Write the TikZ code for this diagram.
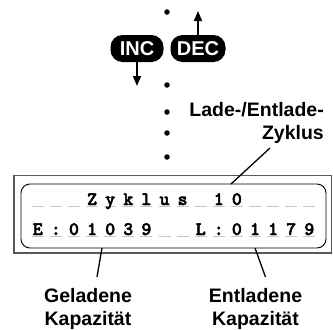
\documentclass[tikz,border=0pt]{standalone}
\usepackage{fontspec}
\usetikzlibrary{arrows.meta}
\newfontfamily\labfont{Liberation Sans}
\newfontfamily\lcdfont[FakeBold=2.5]{lmmonolt10-bold.otf}
\begin{document}
\begin{tikzpicture}[x=1pt,y=-1pt,
  dotn/.style={circle,fill=black,minimum size=5.5pt,inner sep=0pt},
  btn/.style={fill=black,text=white,rounded corners=12pt,minimum height=27pt,inner sep=0pt,
    font=\labfont\bfseries\fontsize{20}{20}\selectfont},
  arr/.style={line width=1.6pt,-{Triangle[length=10pt,width=8pt]}},
  lab/.style={inner sep=0pt,font=\labfont\bfseries\fontsize{19.5}{22.5}\selectfont},
  ptr/.style={line width=1.3pt},
  lcdch/.style={inner sep=0pt,anchor=base,font=\lcdfont\fontsize{19}{19}\selectfont},
  cellline/.style={draw=black!22,line width=1.3pt}]
\useasboundingbox (0,0) rectangle (333,330);
% dots
\node[dotn] (d1) at (167,12) {};
\node[dotn] (d2) at (167,85) {};
\node[dotn] (d3) at (167,112) {};
\node[dotn] (d4) at (167,133) {};
\node[dotn] (d5) at (167,157) {};
% buttons
\node[btn,minimum width=53pt] (inc) at (137,48.5) {INC};
\node[btn,minimum width=55pt] (dec) at (198,48.5) {DEC};
\coordinate (inctip) at (inc.south |- 0,86);
\coordinate (dectip) at (dec.north |- 0,11);
\draw[arr] (inc.south) -- (inctip);
\draw[arr] (dec.north) -- (dectip);
% LCD frame
\draw[draw=black!65,line width=1.6pt] (14,175.5) rectangle (331.5,253);
\draw[line width=0.9pt,rounded corners=9pt] (21,184) rectangle (326,248);
% cells
\foreach \i in {0,...,15}{
  \draw[cellline] ({37.8+18.1*\i-6},206.5) -- ({37.8+18.1*\i+6},206.5);
  \draw[cellline] ({37.8+18.1*\i-6},236.5) -- ({37.8+18.1*\i+6},236.5);
}
\foreach \ch [count=\i from 0] in {{},{},{},Z,y,k,l,u,s,{},1,0,{},{},{},{}}{
  \node[lcdch] (ra\i) at ({37.8+18.1*\i},205) {\ch};
}
\foreach \ch [count=\i from 0] in {E,:,0,1,0,3,9,{},{},L,:,0,1,1,7,9}{
  \node[lcdch] (rb\i) at ({37.8+18.1*\i},235) {\ch};
}
% labels
\node[lab,align=right,anchor=base east] (lz) at (324,139.3) {Lade-/Entlade-\\Zyklus};
\node[lab,align=center,anchor=base] (lg) at (88,325) {Geladene\\Kapazit\"at};
\node[lab,align=center,anchor=base] (le) at (255.5,325) {Entladene\\Kapazit\"at};
% pointers
\coordinate (pz1) at (270,148);
\coordinate (pz2) at (231,184);
\coordinate (pg1) at (102,248);
\coordinate (pg2) at (97,277);
\coordinate (pe1) at (255,248);
\coordinate (pe2) at (265.5,277);
\draw[ptr] (pz1) -- (pz2);
\draw[ptr] (pg1) -- (pg2);
\draw[ptr] (pe1) -- (pe2);
\end{tikzpicture}
\end{document}
